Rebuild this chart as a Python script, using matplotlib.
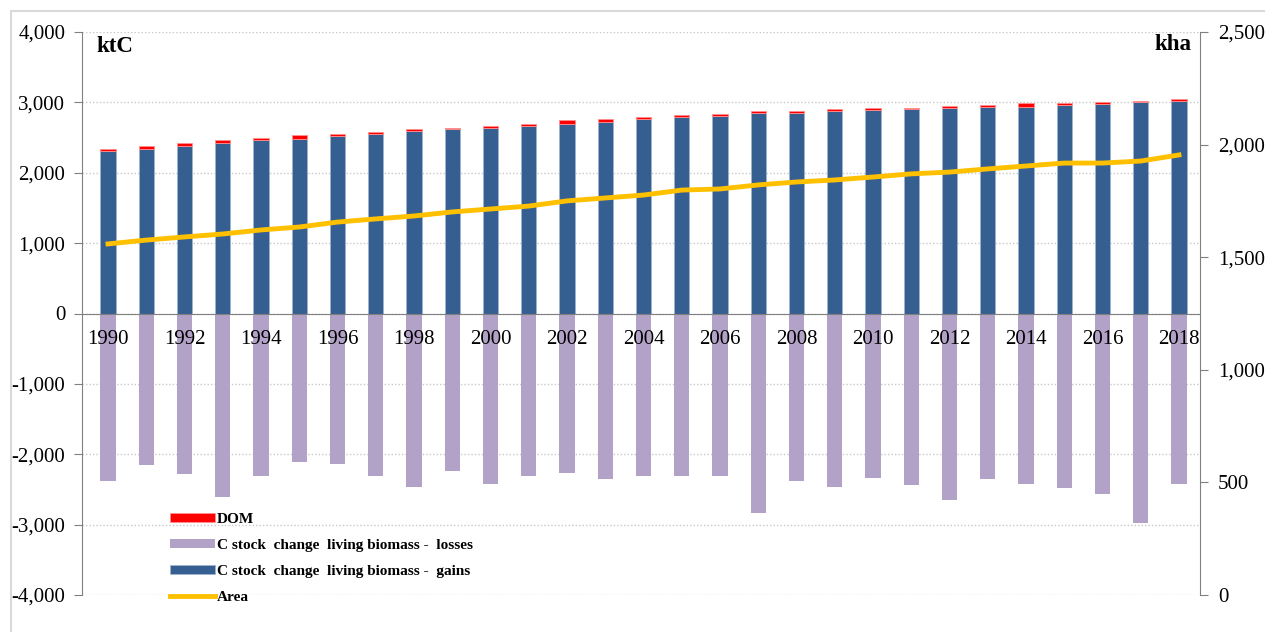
import matplotlib.pyplot as plt
from matplotlib.patches import Rectangle
import numpy as np

plt.rcParams['font.family'] = ['Liberation Serif', 'DejaVu Serif']

years = list(range(1990, 2019))
# C stock change living biomass - gains (ktC)
gains = [2310, 2334, 2376, 2423, 2466, 2485, 2527, 2555, 2598, 2618,
         2640, 2660, 2697, 2726, 2764, 2788, 2811, 2849, 2849, 2874,
         2892, 2902, 2925, 2939, 2939, 2963, 2982, 3006, 3024]
# DOM (ktC)
dom = [30, 45, 47, 43, 28, 52, 28, 24, 24, 23,
       25, 30, 52, 43, 28, 28, 24, 28, 28, 28,
       28, 24, 24, 28, 52, 28, 28, 19, 28]
# C stock change living biomass - losses (ktC)
losses = [-2378, -2150, -2278, -2605, -2307, -2108, -2136, -2307, -2463, -2236,
          -2420, -2307, -2264, -2349, -2307, -2307, -2307, -2832, -2378, -2463,
          -2335, -2435, -2648, -2349, -2420, -2477, -2562, -2974, -2420]
# Area (kha)
area = [1559, 1576, 1590, 1603, 1621, 1634, 1656, 1670, 1683, 1701,
        1714, 1727, 1750, 1763, 1776, 1798, 1803, 1821, 1834, 1843,
        1856, 1870, 1878, 1892, 1905, 1918, 1918, 1927, 1954]

fig = plt.figure(figsize=(12.65, 6.32), dpi=100)
ax = fig.add_axes([82/1265, 1-595/632, (1200-82)/1265, (595-32)/632])

# outer frame
fig.patches.append(Rectangle((11/1265, -0.01), 1.0, 1-11/632+0.01, transform=fig.transFigure,
                             fill=False, edgecolor='#d9d9d9', linewidth=1.5))

w = 0.4
ax.bar(years, gains, width=w, color='#355f91', edgecolor='#9fb3cc', linewidth=0.6,
       label='C stock  change  living biomass -  gains', zorder=3)
ax.bar(years, dom, width=w, bottom=gains, color='#ff0000', edgecolor='#ff9090', linewidth=0.6,
       label='DOM', zorder=3)
ax.bar(years, losses, width=w, color='#b3a2c7', label='C stock  change  living biomass -  losses', zorder=3)

ax.set_ylim(-4000, 4000)
ax.set_xlim(1989.32, 2018.55)
ax.set_yticks(np.arange(-4000, 4001, 1000))
ax.yaxis.set_major_formatter(plt.FuncFormatter(lambda v, p: f'{int(v):,}'))
ax.grid(axis='y', color='#c8c8c8', linestyle=(0, (1, 1.5)), linewidth=1, zorder=0)
ax.set_axisbelow(True)

ax.set_xticks(years[::2])
ax.set_xticklabels([str(y) for y in years[::2]])
ax.spines['bottom'].set_position(('data', 0))
ax.spines['bottom'].set_color('#808080')
ax.spines['bottom'].set_zorder(4)
ax.spines['top'].set_visible(False)
ax.spines['right'].set_visible(False)
ax.spines['left'].set_color('#808080')
ax.tick_params(axis='x', length=0, labelsize=15, pad=12, colors='black')
ax.tick_params(axis='y', labelsize=15, length=6, color='#808080', pad=6)
ax.xaxis.set_zorder(5)

ax2 = ax.twinx()
ax2.plot(years, area, color='#ffc000', linewidth=3.5, label='Area', zorder=4)
ax2.set_ylim(0, 2500)
ax2.set_yticks(np.arange(0, 2501, 500))
ax2.yaxis.set_major_formatter(plt.FuncFormatter(lambda v, p: f'{int(v):,}'))
for s in ['top', 'left', 'bottom']:
    ax2.spines[s].set_visible(False)
ax2.spines['right'].set_color('#808080')
ax2.tick_params(axis='y', labelsize=15, length=6, color='#808080', pad=7)

ax.text(96/1265, 1-47/632, 'ktC', transform=fig.transFigure, fontsize=16.5, fontweight='bold',
        va='center', ha='left')
ax.text(1191/1265, 1-45/632, 'kha', transform=fig.transFigure, fontsize=16.5, fontweight='bold',
        va='center', ha='right')

h1, l1 = ax.get_legend_handles_labels()
h2, l2 = ax2.get_legend_handles_labels()
handles = [h1[1], h1[2], h1[0], h2[0]]
labels = [l1[1], l1[2], l1[0], l2[0]]
ax.legend(handles, labels, loc='upper left', bbox_to_anchor=(80/1118, 90/563), frameon=False,
          prop={'weight': 'bold', 'size': 11}, handlelength=3.0, handleheight=0.55,
          handletextpad=0.1, labelspacing=0.85, borderpad=0)

fig.savefig('out.png', dpi=100)
